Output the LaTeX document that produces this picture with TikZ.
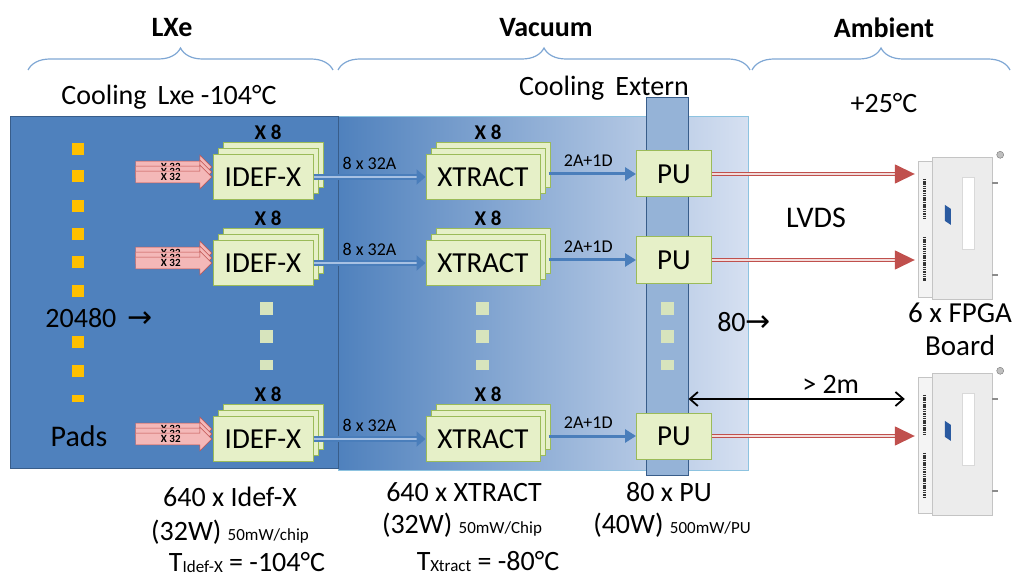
\documentclass[tikz,border=0pt]{standalone}
\usepackage{fontspec}
\setmainfont{Carlito}
\newfontfamily\arrowfont{DejaVu Sans}
\usetikzlibrary{positioning, arrows.meta, calc, shapes.arrows, decorations.pathreplacing}

\definecolor{lxeblue}{HTML}{4F81BD}
\definecolor{lxeedge}{HTML}{385D8A}
\definecolor{gradlight}{HTML}{D6E0F1}
\definecolor{gradedge}{HTML}{8DC3E0}
\definecolor{colfill}{HTML}{95B3D7}
\definecolor{chipfill}{HTML}{E6F0C8}
\definecolor{chipedge}{HTML}{9BBB59}
\definecolor{padcol}{HTML}{FFC000}
\definecolor{dotcol}{HTML}{D7E4BD}
\definecolor{linkblue}{HTML}{4A7EBB}
\definecolor{buslight}{HTML}{A7C1E3}
\definecolor{lvdsred}{HTML}{C0504D}
\definecolor{lvdslight}{HTML}{F2DCDB}
\definecolor{pinkcol}{HTML}{F4B8B8}
\definecolor{bracecol}{HTML}{7FA7D4}
\definecolor{boardface}{HTML}{ECECEC}
\definecolor{boardside}{HTML}{F4F4F4}
\definecolor{boardedge}{HTML}{C4C4C4}
\definecolor{logoblue}{HTML}{2A5AA0}

\begin{document}
\begin{tikzpicture}[
    x=1pt, y=-1pt,
    every node/.style={font=\fontsize{28}{32}\selectfont},
    region/.style={font=\bfseries\fontsize{28}{30}\selectfont},
    span/.style={decorate, decoration={brace, amplitude=22pt}, draw=bracecol, line width=1.2pt},
    chip/.style={rectangle, draw=chipedge, fill=chipfill, line width=1pt, minimum width=100pt, minimum height=45pt, inner sep=0pt, font=\fontsize{29}{30}\selectfont},
    pu/.style={chip, minimum width=75pt, minimum height=46pt, font=\fontsize{29}{30}\selectfont},
    count/.style={inner sep=1pt, font=\bfseries\fontsize{21}{22}\selectfont},
    busnote/.style={inner sep=2pt, font=\fontsize{18}{19}\selectfont},
    pad/.style={rectangle, fill=padcol, minimum size=12pt, inner sep=0pt},
    dot/.style={rectangle, fill=dotcol, minimum size=13pt, inner sep=0pt},
    input/.style={single arrow, draw=lvdsred, fill=pinkcol, minimum height=76pt, single arrow head extend=6pt, inner xsep=2pt, inner ysep=2pt, font=\bfseries\fontsize{11}{12}\selectfont},
    bus/.style={draw=linkblue, line width=2.2pt, double=buslight, double distance=1.6pt, -{Triangle[length=9pt,width=15pt]}},
    link/.style={draw=linkblue, line width=3pt, -{Triangle[length=11pt,width=13pt]}},
    lvds/.style={draw=lvdsred, line width=1.5pt, double=lvdslight, double distance=1.5pt, -{Triangle[length=20pt,width=19pt]}},
    cable/.style={line width=1.8pt, {Straight Barb[length=8pt,width=14pt]}-{Straight Barb[length=8pt,width=14pt]}},
    board/.style={rectangle, minimum width=80pt, minimum height=146pt, inner sep=0pt},
    pins/.style={black!80, line width=3pt, dash pattern=on 1.5pt off 0.8pt}
]
    \useasboundingbox (0,0) rectangle (1014,577);

    % Regions
    \node[region] (hlxe) at (172,28) {LXe};
    \node[region] (hvac) at (546,28) {Vacuum};
    \node[region] (hamb) at (884,28) {Ambient};
    \draw[span] (28,70) -- (333,70);
    \draw[span] (338,70) -- (750,70);
    \draw[span] (752,70) -- (1010,70);

    \node (coolL) at (169,97) {Cooling\, Lxe -104°C};
    \node (coolE) at (604,88) {Cooling\, Extern};
    \node (warm) at (884,103) {+25°C};

    % Boxes
    \shade[left color=lxeblue, right color=gradlight] (338,117) rectangle (748,470);
    \draw[gradedge, line width=1pt] (338,117) rectangle (748,470);
    \draw[draw=lxeedge, fill=lxeblue, line width=1pt] (10,117) rectangle (338,468);
    \node[draw=lxeedge, fill=colfill, line width=1pt, minimum width=42pt, minimum height=377pt, inner sep=0pt] (pucol) at (667,286.5) {};

    % Pads
    \foreach \y in {149,176,206,234,262,291,342,371}
        \node[pad] (pad\y) at (78,\y) {};
    \node[pad, minimum height=7pt] (padlast) at (78,398) {};
    \node (npads) at (99,318) {20480\, {\arrowfont\fontsize{30}{32}\selectfont →}};
    \node[font=\fontsize{30}{32}\selectfont] (pads) at (79,436) {Pads};

    % Chip rows
    \foreach \r/\y in {1/177, 2/263, 3/439} {
        \foreach \k in {2,1} {
            \node[chip, xshift=\k*5pt, yshift=\k*6pt] (idef\r-\k) at (263,\y) {};
            \node[chip, minimum width=114pt, xshift=\k*5pt, yshift=\k*6pt] (xtract\r-\k) at (483,\y) {};
            \node[input, anchor=tip, yshift=\k*5pt] (in\r-\k) at (212,\y) {X 32};
        }
        \node[input, anchor=tip] (in\r) at (212,\y) {X 32};
        \node[chip] (idef\r) at (263,\y) {IDEF-X};
        \node[chip, minimum width=114pt] (xtract\r) at (483,\y) {XTRACT};
        \node[pu] (pu\r) at (674,\y-3) {PU};
        \node[count, above=13pt of idef\r, xshift=5pt] (nidef\r) {X 8};
        \node[count, above=13pt of xtract\r, xshift=5pt] (nxtract\r) {X 8};
        \draw[bus] (idef\r.east) -- (xtract\r.west) node[busnote, midway, above=4pt] {8 x 32A};
        \draw[link, shorten <=8pt] (xtract\r.east |- pu\r) -- (pu\r.west) node[busnote, midway, above=4pt] {2A+1D};
    }

    % Dots
    \foreach \x/\n in {266/i, 482/x, 667/p} {
        \node[dot] (dot\n1) at (\x,308) {};
        \node[dot] (dot\n2) at (\x,336) {};
        \node[dot, minimum height=10pt] (dot\n3) at (\x,365) {};
    }

    % FPGA boards
    \foreach \b/\y in {A/226, B/442} {
        \node[board] (fpga\b) at (958,\y) {};
        \draw[boardedge, fill=boardface] ($(fpga\b.north west)+(14,4)$) rectangle ($(fpga\b.south east)+(-6,0)$);
        \draw[boardedge, fill=boardside] ($(fpga\b.north west)+(0,8)$) rectangle ($(fpga\b.south west)+(14,-2)$);
        \draw[pins] ($(fpga\b.north west)+(7,26)$) -- ($(fpga\b.north west)+(7,66)$);
        \draw[pins] ($(fpga\b.north west)+(7,84)$) -- ($(fpga\b.north west)+(7,128)$);
        \draw[black!15, fill=white] ($(fpga\b.north west)+(44,24)$) rectangle ($(fpga\b.north west)+(56,96)$);
        \fill[logoblue] ($(fpga\b.north west)+(27,52)$) -- ++(6,4) -- ++(0,16) -- ++(-6,-4) -- cycle;
        \draw[black!55, fill=black!25] ($(fpga\b.north east)+(2,2)$) circle (3.5);
        \draw[black!45, line width=1.5pt] ($(fpga\b.north east)+(-6,30)$) -- ++(6,0);
        \draw[black!45, line width=1.5pt] ($(fpga\b.south east)+(-6,-24)$) -- ++(6,0);
    }

    % Links to the boards
    \foreach \r/\b in {1/A, 2/A, 3/B}
        \draw[lvds, shorten >=3pt] (pu\r.east) -- (fpga\b.west |- pu\r.east);
    \coordinate (gap) at (700,399);
    \draw[cable, shorten >=13pt] (pucol.east |- gap) -- (fpgaB.west |- gap) node[pos=0.62, above=1pt] {> 2m};

    \node[font=\fontsize{30}{32}\selectfont] (lvdsnote) at (816,218) {LVDS};
    \node (nlinks) at (744,322) {80{\arrowfont\fontsize{30}{32}\selectfont →}};
    \node[align=center, font=\fontsize{29}{33}\selectfont] (nboards) at (960,329) {6 x FPGA\\Board};

    % Totals
    \node (tidef) at (230,497) {640 x Idef-X};
    \node (widef) at (230,532) {(32W) {\fontsize{17}{18}\selectfont 50mW/chip}};
    \node (cidef) at (247,562) {T\raisebox{-1pt}{\fontsize{17}{18}\selectfont Idef-X} = -104°C};
    \node (txtract) at (464,492) {640 x XTRACT};
    \node (wxtract) at (462,525) {(32W) {\fontsize{17}{18}\selectfont 50mW/Chip}};
    \node (cxtract) at (488,561) {T\raisebox{-1pt}{\fontsize{17}{18}\selectfont Xtract} = -80°C};
    \node (tpu) at (669,492) {80 x PU};
    \node (wpu) at (672,525) {(40W) {\fontsize{17}{18}\selectfont 500mW/PU}};

\end{tikzpicture}
\end{document}
